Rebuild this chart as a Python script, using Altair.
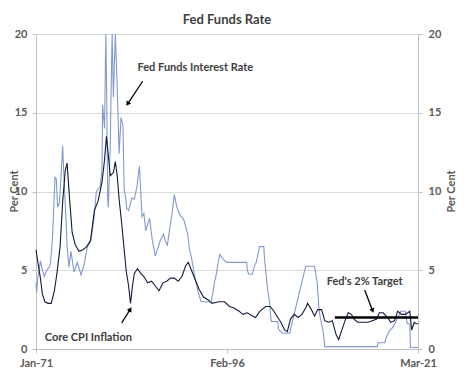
import altair as alt
import pandas as pd

# Fed Funds Interest Rate (light blue)
ff_dates = ["1971-01","1971-02","1971-04","1971-06","1971-08","1971-10","1972-02","1972-06","1972-10","1972-12",
            "1973-03","1973-07","1973-09","1973-11","1974-02","1974-05","1974-07","1974-10","1974-12","1975-02",
            "1975-05","1975-08","1976-01","1976-06","1976-12","1977-05","1977-10","1978-03","1978-06","1978-09",
            "1978-12","1979-06","1979-09","1979-10","1980-01","1980-03","1980-04","1980-06","1980-07","1980-10",
            "1980-12","1981-01","1981-03","1981-06","1981-08","1981-10","1981-12","1982-03","1982-06","1982-08",
            "1982-10","1982-12","1983-03","1983-08","1983-12","1984-04","1984-08","1984-12","1985-03","1985-06",
            "1985-12","1986-04","1986-09","1987-01","1987-05","1987-10","1988-01","1988-04","1988-12","1989-03",
            "1989-07","1989-12","1990-06","1990-12","1991-03","1991-06","1991-12","1992-04","1992-09","1994-01",
            "1994-04","1994-06","1994-09","1994-12","1995-03","1995-07","1996-01","1997-03","1998-09","1998-10",
            "1998-12","1999-06","1999-09","1999-12","2000-03","2000-05","2000-12","2001-01","2001-03","2001-06",
            "2001-09","2001-11","2001-12","2002-10","2002-11","2003-06","2004-05","2004-06","2004-12","2005-06",
            "2005-12","2006-06","2007-08","2007-12","2008-03","2008-05","2008-10","2008-12","2015-11","2015-12",
            "2016-11","2016-12","2017-03","2017-06","2017-12","2018-03","2018-06","2018-09","2018-12","2019-07",
            "2019-08","2019-10","2020-02","2020-03","2021-03"]
ff_values = [4.2, 3.6, 4.6, 5.0, 5.6, 5.2, 4.6, 5.0, 5.2, 5.5,
             7.0, 10.9, 10.8, 9.0, 9.3, 11.3, 12.9, 10.1, 8.5, 6.5,
             5.2, 6.2, 4.9, 5.5, 4.7, 5.4, 6.5, 6.8, 7.6, 8.5,
             10.0, 10.3, 11.4, 15.5, 14.0, 20.0, 17.6, 9.5, 9.0, 12.8,
             18.0, 20.0, 16.0, 20.0, 17.8, 15.3, 12.4, 14.7, 14.2, 10.1,
             9.7, 8.9, 8.8, 9.6, 9.5, 10.3, 11.6, 8.4, 8.6, 7.5,
             8.3, 7.0, 5.9, 6.4, 6.9, 7.3, 6.8, 6.6, 8.8, 9.8,
             9.0, 8.5, 8.2, 7.3, 6.3, 5.8, 4.4, 3.7, 3.0, 3.0,
             3.6, 4.2, 4.7, 5.5, 6.0, 5.75, 5.5, 5.5, 5.5, 5.0,
             4.75, 4.75, 5.25, 5.5, 6.0, 6.5, 6.5, 5.75, 5.0, 3.75,
             3.0, 2.0, 1.75, 1.75, 1.25, 1.0, 1.0, 1.25, 2.25, 3.25,
             4.25, 5.25, 5.25, 4.25, 2.5, 2.0, 1.0, 0.15, 0.15, 0.4,
             0.4, 0.65, 0.9, 1.15, 1.4, 1.65, 1.9, 2.15, 2.4, 2.4,
             2.1, 1.6, 1.6, 0.1, 0.1]

# Core CPI Inflation (dark navy)
cpi_dates = ["1971-01","1971-04","1971-08","1971-11","1972-03","1972-08","1973-01","1973-06","1973-10","1974-03",
             "1974-07","1974-11","1975-02","1975-06","1975-10","1976-03","1976-09","1977-03","1977-09","1978-03",
             "1978-09","1979-03","1979-09","1980-01","1980-04","1980-07","1980-10","1981-03","1981-06","1981-09",
             "1981-12","1982-04","1982-08","1982-11","1983-03","1983-06","1983-09","1983-12","1984-05","1984-10",
             "1985-03","1985-09","1986-03","1986-09","1987-03","1987-09","1988-03","1988-09","1989-03","1989-09",
             "1990-03","1990-09","1991-01","1991-06","1991-12","1992-06","1993-01","1993-09","1994-02","1995-01",
             "1995-10","1996-06","1997-01","1997-09","1998-03","1998-10","1999-06","1999-11","2000-06","2001-03",
             "2001-10","2002-04","2002-10","2003-03","2003-09","2004-01","2004-06","2004-12","2005-06","2005-12",
             "2006-06","2006-09","2007-03","2007-08","2008-01","2008-07","2008-12","2009-06","2009-12","2010-06",
             "2010-10","2011-03","2011-08","2012-01","2012-06","2012-10","2013-04","2013-09","2014-03","2014-08",
             "2015-03","2015-10","2016-02","2016-08","2017-03","2017-08","2018-02","2018-07","2019-01","2019-07",
             "2020-02","2020-05","2020-09","2020-12","2021-03"]
cpi_values = [6.3, 5.5, 4.5, 3.5, 3.0, 2.9, 2.9, 3.7, 4.8, 6.5,
              9.3, 11.3, 11.8, 9.5, 7.4, 6.6, 6.2, 6.3, 6.5, 6.9,
              8.8, 9.4, 10.6, 12.0, 13.5, 12.3, 11.0, 11.2, 11.9, 11.0,
              9.5, 8.0, 6.3, 5.0, 4.0, 2.9, 4.0, 4.8, 5.1, 4.8,
              4.6, 4.2, 4.3, 4.0, 3.7, 4.2, 4.3, 4.5, 4.5, 4.3,
              4.6, 5.3, 5.5, 5.0, 4.4, 3.8, 3.3, 3.1, 2.9, 3.0,
              3.0, 2.7, 2.6, 2.4, 2.2, 2.3, 2.1, 2.0, 2.4, 2.7,
              2.7, 2.4, 2.0, 1.7, 1.2, 1.1, 1.9, 2.2, 2.0, 2.2,
              2.6, 2.9, 2.5, 2.1, 2.5, 2.5, 1.8, 1.7, 1.8, 0.9,
              0.6, 1.2, 1.8, 2.3, 2.2, 1.9, 1.7, 1.7, 1.7, 1.7,
              1.8, 1.9, 2.3, 2.3, 2.0, 1.7, 1.8, 2.4, 2.2, 2.2,
              2.4, 1.2, 1.7, 1.6, 1.6]

target_dates = ["2010-04", "2021-03"]
target_values = [2.0, 2.0]

# annotations (text label position, arrow tail, arrow head)
label_texts = ["Fed Funds Interest Rate", "Core CPI Inflation", "Fed's 2% Target"]
label_dates = ["1984-05", "1972-03", "2014-03"]
label_values = [17.85, 0.7, 4.25]
label_aligns = ["left", "left", "center"]
arrow_tail_dates = ["1985-01", "1982-04", "2014-03"]
arrow_tail_values = [17.0, 1.65, 3.75]
arrow_head_dates = ["1983-02", "1983-05", "2015-03"]
arrow_head_values = [15.6, 2.48, 2.48]
arrow_angles = [214, 32, 158]

ff = pd.DataFrame({"date": ff_dates, "v": ff_values})
cpi = pd.DataFrame({"date": cpi_dates, "v": cpi_values})
tgt = pd.DataFrame({"date": target_dates, "v": target_values})
arrows = pd.DataFrame({"d1": arrow_tail_dates, "v1": arrow_tail_values,
                       "d2": arrow_head_dates, "v2": arrow_head_values, "ang": arrow_angles})
labels = pd.DataFrame({"date": label_dates, "v": label_values, "t": label_texts, "a": label_aligns})

FONT = "Lato"
GRAY = "#595959"
x_dom = ["1971-01-01", "2021-03-01"]
xscale = alt.Scale(domain=x_dom, nice=False)
yscale = alt.Scale(domain=[0, 20], nice=False)

xaxis = alt.Axis(values=["1971-01-01", "1996-02-01", "2021-03-01"], format="%b-%y", title=None,
                 grid=False, domainColor="#bfbfbf", tickColor="#bfbfbf", tickSize=4,
                 labelFont=FONT, labelFontWeight="bold", labelFontSize=11, labelColor=GRAY,
                 labelPadding=4, labelOverlap=False, labelFlush=False)
yaxis_left = alt.Axis(values=[0, 5, 10, 15, 20], title="Per Cent", grid=True, gridColor="#d9d9d9",
                      domainColor="#bfbfbf", tickColor="#bfbfbf", tickSize=4,
                      labelFont=FONT, labelFontWeight="bold", labelFontSize=11, labelColor=GRAY,
                      labelPadding=5,
                      titleFont=FONT, titleFontWeight="bold", titleFontSize=11, titleColor=GRAY,
                      titleAngle=270, titleX=-17, titleY=157, titleAlign="center",
                      titleBaseline="bottom")
yaxis_right = alt.Axis(values=[0, 5, 10, 15, 20], title="Per Cent", orient="right", grid=False,
                       domainColor="#bfbfbf", tickColor="#bfbfbf", tickSize=4,
                       labelFont=FONT, labelFontWeight="bold", labelFontSize=11, labelColor=GRAY,
                       labelPadding=6,
                       titleFont=FONT, titleFontWeight="bold", titleFontSize=11, titleColor=GRAY,
                       titleAngle=270, titleX=38, titleY=157, titleAlign="center",
                       titleBaseline="bottom")

ff_line = alt.Chart(ff).mark_line(color="#8299cf", strokeWidth=1.1).encode(
    x=alt.X("date:T", scale=xscale, axis=xaxis),
    y=alt.Y("v:Q", scale=yscale, axis=yaxis_left))
cpi_line = alt.Chart(cpi).mark_line(color="#141a3a", strokeWidth=1.1).encode(
    x=alt.X("date:T", scale=xscale), y=alt.Y("v:Q", scale=yscale))
tgt_line = alt.Chart(tgt).mark_line(color="black", strokeWidth=2.5).encode(
    x=alt.X("date:T", scale=xscale), y=alt.Y("v:Q", scale=yscale))
arrow_shaft = alt.Chart(arrows).mark_rule(color="black", strokeWidth=1.3).encode(
    x=alt.X("d1:T", scale=xscale), y=alt.Y("v1:Q", scale=yscale), x2="d2:T", y2="v2:Q")
arrow_head = alt.Chart(arrows).mark_point(shape="triangle", filled=True, color="black",
                                          size=28, opacity=1).encode(
    x=alt.X("d2:T", scale=xscale), y=alt.Y("v2:Q", scale=yscale),
    angle=alt.Angle("ang:Q", scale=None))
texts = []
for al in ["left", "center"]:
    texts.append(alt.Chart(labels[labels["a"] == al]).mark_text(
        font=FONT, fontWeight="bold", fontSize=11, color="#404040", align=al, baseline="middle").encode(
        x=alt.X("date:T", scale=xscale), y=alt.Y("v:Q", scale=yscale), text="t:N"))

left_group = alt.layer(ff_line, cpi_line, tgt_line, arrow_shaft, arrow_head, *texts)
right_axis = alt.Chart(ff).mark_line(opacity=0).encode(
    x=alt.X("date:T", scale=xscale), y=alt.Y("v:Q", scale=yscale, axis=yaxis_right))

chart = alt.layer(left_group, right_axis).resolve_scale(y="independent").properties(
    width=382, height=315,
    title=alt.TitleParams("Fed Funds Rate", font=FONT, fontSize=13, fontWeight="bold",
                          color="#404040", anchor="middle", offset=1),
    autosize=alt.AutoSizeParams(type="none"),
    padding={"left": 28, "top": 26, "right": 44, "bottom": 27},
).configure_view(stroke=None).configure(background="white")

chart.save("out.html", embed_options={"renderer": "svg", "actions": False})
